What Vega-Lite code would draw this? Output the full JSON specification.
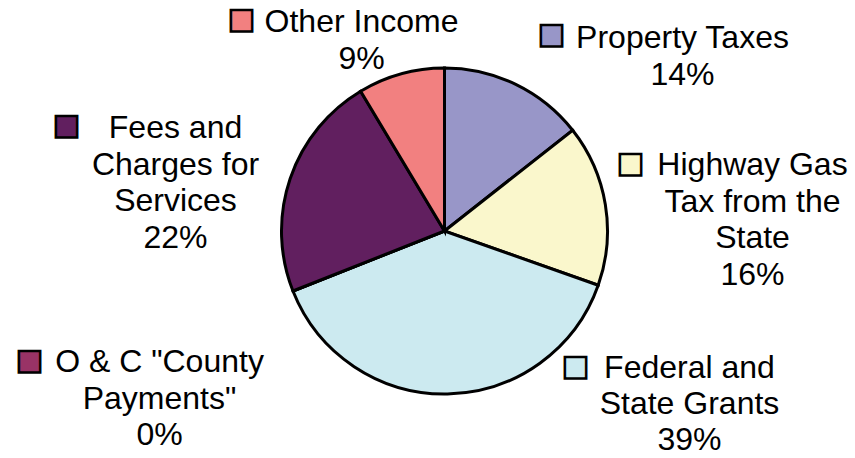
{
  "$schema": "https://vega.github.io/schema/vega-lite/v6.json",
  "width": 821,
  "height": 454,
  "autosize": {"type": "none"},
  "padding": {"left": 34, "top": 4, "right": 0, "bottom": 0},
  "background": "white",
  "view": {"stroke": null},
  "data": {
    "values": [
      {"category": "Property Taxes", "value": 14.4, "order": 1, "label": "Property Taxes\n14%"},
      {"category": "Highway Gas Tax from the State", "value": 16.0, "order": 2, "label": "Highway Gas\nTax from the\nState\n16%"},
      {"category": "Federal and State Grants", "value": 38.6, "order": 3, "label": "Federal and\nState Grants\n39%"},
      {"category": "O & C \"County Payments\"", "value": 0, "order": 4, "label": "O & C \"County\nPayments\"\n0%"},
      {"category": "Fees and Charges for Services", "value": 22.4, "order": 5, "label": "Fees and\nCharges for\nServices\n22%"},
      {"category": "Other Income", "value": 8.6, "order": 6, "label": "Other Income\n9%"}
    ]
  },
  "layer": [
    {
      "mark": {"type": "arc", "outerRadius": 163, "stroke": "#000", "strokeWidth": 3},
      "encoding": {
        "theta": {"field": "value", "type": "quantitative", "stack": true},
        "order": {"field": "order", "type": "quantitative"},
        "color": {"field": "category", "type": "nominal", "legend": null,
          "scale": {"domain": ["Property Taxes", "Highway Gas Tax from the State", "Federal and State Grants", "O & C \"County Payments\"", "Fees and Charges for Services", "Other Income"],
                    "range": ["#9896C8", "#FAF7CC", "#CCEAF0", "#993366", "#611F5F", "#F28080"]}}
      }
    },
    {
      "transform": [{"filter": "datum.order == 1"}],
      "layer": [
        {"mark": {"type": "text", "text": "■", "font": "DejaVu Sans", "fontSize": 28, "stroke": "#000", "strokeWidth": 2.5, "align": "center", "baseline": "middle", "dx": 107, "dy": -196},
         "encoding": {"color": {"field": "category", "type": "nominal", "legend": null,
          "scale": {"domain": ["Property Taxes", "Highway Gas Tax from the State", "Federal and State Grants", "O & C \"County Payments\"", "Fees and Charges for Services", "Other Income"],
                    "range": ["#9896C8", "#FAF7CC", "#CCEAF0", "#993366", "#611F5F", "#F28080"]}}}},
        {"mark": {"type": "text", "font": "Liberation Sans", "fontSize": 32, "lineHeight": 36.5, "lineBreak": "\n", "align": "center", "baseline": "middle", "color": "#000", "dx": 238, "dy": -193},
         "encoding": {"text": {"field": "label", "type": "nominal"}}}
      ]
    },
    {
      "transform": [{"filter": "datum.order == 2"}],
      "layer": [
        {"mark": {"type": "text", "text": "■", "font": "DejaVu Sans", "fontSize": 28, "stroke": "#000", "strokeWidth": 2.5, "align": "center", "baseline": "middle", "dx": 186, "dy": -67},
         "encoding": {"color": {"field": "category", "type": "nominal", "legend": null,
          "scale": {"domain": ["Property Taxes", "Highway Gas Tax from the State", "Federal and State Grants", "O & C \"County Payments\"", "Fees and Charges for Services", "Other Income"],
                    "range": ["#9896C8", "#FAF7CC", "#CCEAF0", "#993366", "#611F5F", "#F28080"]}}}},
        {"mark": {"type": "text", "font": "Liberation Sans", "fontSize": 32, "lineHeight": 36.5, "lineBreak": "\n", "align": "center", "baseline": "middle", "color": "#000", "dx": 308, "dy": -66},
         "encoding": {"text": {"field": "label", "type": "nominal"}}}
      ]
    },
    {
      "transform": [{"filter": "datum.order == 3"}],
      "layer": [
        {"mark": {"type": "text", "text": "■", "font": "DejaVu Sans", "fontSize": 28, "stroke": "#000", "strokeWidth": 2.5, "align": "center", "baseline": "middle", "dx": 131, "dy": 136},
         "encoding": {"color": {"field": "category", "type": "nominal", "legend": null,
          "scale": {"domain": ["Property Taxes", "Highway Gas Tax from the State", "Federal and State Grants", "O & C \"County Payments\"", "Fees and Charges for Services", "Other Income"],
                    "range": ["#9896C8", "#FAF7CC", "#CCEAF0", "#993366", "#611F5F", "#F28080"]}}}},
        {"mark": {"type": "text", "font": "Liberation Sans", "fontSize": 32, "lineHeight": 36, "lineBreak": "\n", "align": "center", "baseline": "middle", "color": "#000", "dx": 245, "dy": 137},
         "encoding": {"text": {"field": "label", "type": "nominal"}}}
      ]
    },
    {
      "transform": [{"filter": "datum.order == 4"}],
      "layer": [
        {"mark": {"type": "text", "text": "■", "font": "DejaVu Sans", "fontSize": 28, "stroke": "#000", "strokeWidth": 2.5, "align": "center", "baseline": "middle", "dx": -415, "dy": 130},
         "encoding": {"color": {"field": "category", "type": "nominal", "legend": null,
          "scale": {"domain": ["Property Taxes", "Highway Gas Tax from the State", "Federal and State Grants", "O & C \"County Payments\"", "Fees and Charges for Services", "Other Income"],
                    "range": ["#9896C8", "#FAF7CC", "#CCEAF0", "#993366", "#611F5F", "#F28080"]}}}},
        {"mark": {"type": "text", "font": "Liberation Sans", "fontSize": 32, "lineHeight": 36.5, "lineBreak": "\n", "align": "center", "baseline": "middle", "color": "#000", "dx": -285, "dy": 131},
         "encoding": {"text": {"field": "label", "type": "nominal"}}}
      ]
    },
    {
      "transform": [{"filter": "datum.order == 5"}],
      "layer": [
        {"mark": {"type": "text", "text": "■", "font": "DejaVu Sans", "fontSize": 28, "stroke": "#000", "strokeWidth": 2.5, "align": "center", "baseline": "middle", "dx": -378, "dy": -105},
         "encoding": {"color": {"field": "category", "type": "nominal", "legend": null,
          "scale": {"domain": ["Property Taxes", "Highway Gas Tax from the State", "Federal and State Grants", "O & C \"County Payments\"", "Fees and Charges for Services", "Other Income"],
                    "range": ["#9896C8", "#FAF7CC", "#CCEAF0", "#993366", "#611F5F", "#F28080"]}}}},
        {"mark": {"type": "text", "font": "Liberation Sans", "fontSize": 32, "lineHeight": 36.5, "lineBreak": "\n", "align": "center", "baseline": "middle", "color": "#000", "dx": -269, "dy": -103},
         "encoding": {"text": {"field": "label", "type": "nominal"}}}
      ]
    },
    {
      "transform": [{"filter": "datum.order == 6"}],
      "layer": [
        {"mark": {"type": "text", "text": "■", "font": "DejaVu Sans", "fontSize": 28, "stroke": "#000", "strokeWidth": 2.5, "align": "center", "baseline": "middle", "dx": -203, "dy": -211},
         "encoding": {"color": {"field": "category", "type": "nominal", "legend": null,
          "scale": {"domain": ["Property Taxes", "Highway Gas Tax from the State", "Federal and State Grants", "O & C \"County Payments\"", "Fees and Charges for Services", "Other Income"],
                    "range": ["#9896C8", "#FAF7CC", "#CCEAF0", "#993366", "#611F5F", "#F28080"]}}}},
        {"mark": {"type": "text", "font": "Liberation Sans", "fontSize": 32, "lineHeight": 36.5, "lineBreak": "\n", "align": "center", "baseline": "middle", "color": "#000", "dx": -83, "dy": -209},
         "encoding": {"text": {"field": "label", "type": "nominal"}}}
      ]
    }
  ]
}
